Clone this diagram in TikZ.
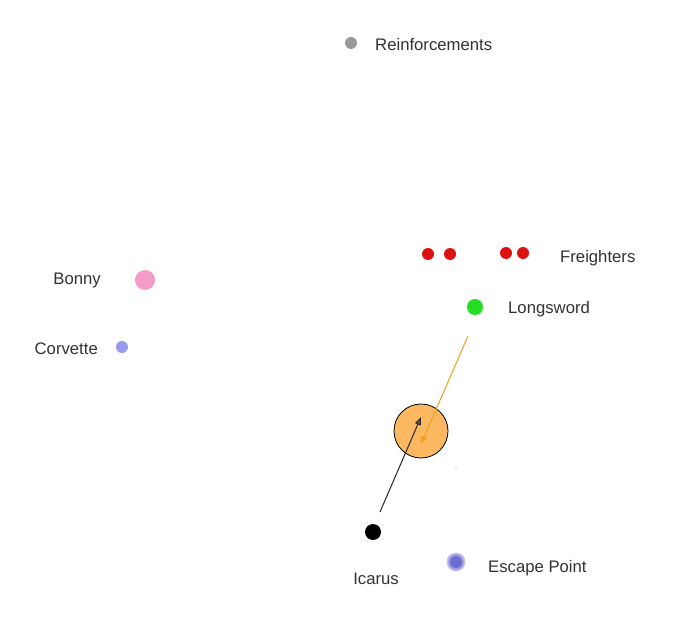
\documentclass[tikz,border=0pt]{standalone}
\usepackage{fontspec}
\setmainfont{Liberation Sans}
\usetikzlibrary{arrows.meta}
\definecolor{txt}{HTML}{333333}
\definecolor{greydot}{HTML}{999999}
\definecolor{reddot}{HTML}{DD1111}
\definecolor{greendot}{HTML}{22DD22}
\definecolor{pinkdot}{HTML}{F49AC6}
\definecolor{corvdot}{HTML}{9999EE}
\definecolor{escdot}{HTML}{5C5CCC}
\definecolor{orangefill}{HTML}{FBB860}
\definecolor{orangeline}{HTML}{F0A020}
\tikzset{
  dot/.style={circle,inner sep=0pt,minimum size=#1},
  lbl/.style={text=txt,font=\fontsize{16.7pt}{20pt}\selectfont,inner sep=0pt},
}
\begin{document}
\begin{tikzpicture}[x=1pt,y=-1pt]
\useasboundingbox[fill=white] (0,0) rectangle (675,618);
% dots
\node[dot=12pt,fill=greydot] (reinf) at (351,43) {};
\node[dot=12pt,fill=reddot] (f1) at (428,254) {};
\node[dot=12pt,fill=reddot] (f2) at (450,254) {};
\node[dot=12pt,fill=reddot] (f3) at (506,253) {};
\node[dot=12pt,fill=reddot] (f4) at (523,253) {};
\node[dot=16pt,fill=greendot] (long) at (475,307) {};
\node[dot=20pt,fill=pinkdot] (bonny) at (145,280) {};
\node[dot=12pt,fill=corvdot] (corv) at (122,347) {};
\node[dot=16pt,fill=black] (icarus) at (373,532) {};
\node[dot=19pt,fill=escdot!35] (escH) at (456,562) {};
\node[dot=16pt,fill=escdot!60] (escM) at (456,562) {};
\node[dot=12pt,fill=escdot!90] (esc) at (456,562) {};
\node[dot=1.2pt,fill=greydot] (tiny) at (456,468) {};
\node[dot=54pt,fill=orangefill,draw=black,line width=0.8pt] (obj) at (421,431) {};
% labels
\node[lbl,anchor=base west] (reinfL) at (375,51) {Reinforcements};
\node[lbl,anchor=base west] (freiL) at (560,262) {Freighters};
\node[lbl,anchor=base west] (longL) at (508,313) {Longsword};
\node[lbl,anchor=base east] (bonnyL) at (101,284) {Bonny};
\node[lbl,anchor=base east] (corvL) at (98,354) {Corvette};
\node[lbl,anchor=base] (icarusL) at (376,584) {Icarus};
\node[lbl,anchor=base west] (escL) at (488,572) {Escape Point};
% vectors
\coordinate (oa) at (468,336);
\coordinate (ob) at (421,444);
\coordinate (ba) at (380,512);
\coordinate (bb) at (421,417);
\draw[orangeline,line width=1pt,-{Triangle[length=8pt,width=6pt]}] (oa) -- (ob);
\draw[black!85,line width=1pt,-{Triangle[length=8pt,width=6pt,fill=black!55!orangefill]}] (ba) -- (bb);
\end{tikzpicture}
\end{document}
